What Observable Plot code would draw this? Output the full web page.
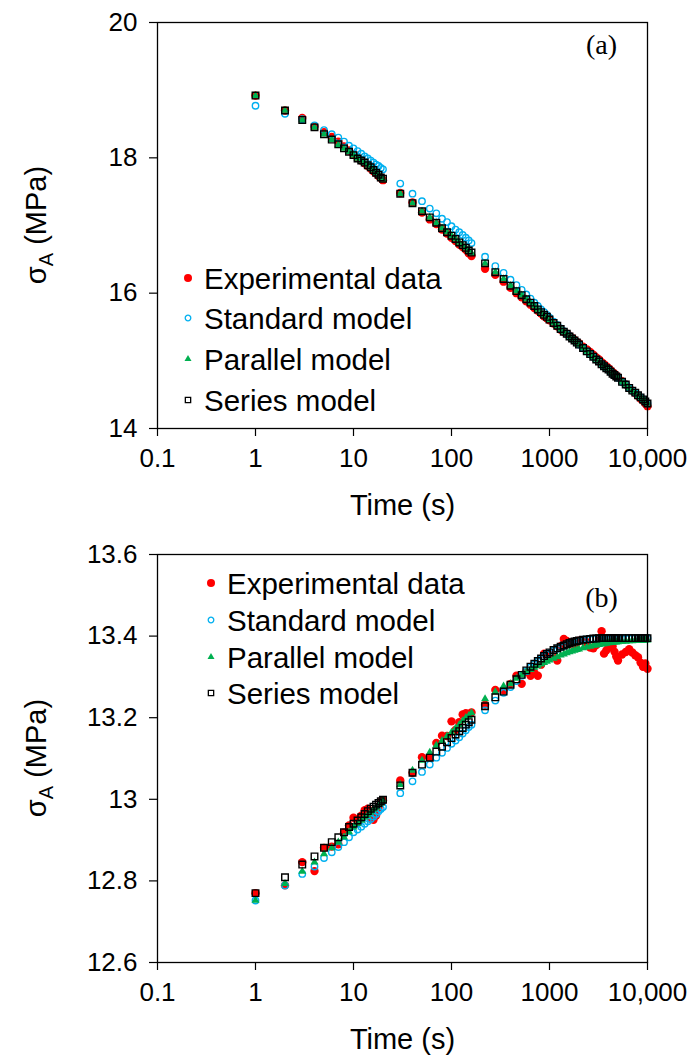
<!DOCTYPE html>
<html><head><meta charset="utf-8">
<script src="https://cdn.jsdelivr.net/npm/d3@7"></script>
<script src="https://cdn.jsdelivr.net/npm/@observablehq/plot@0.6"></script>
<style>
body{margin:0;background:#fff}
#chart{width:688px;height:1059px;overflow:hidden}
#chart svg{display:block;overflow:visible}
</style></head><body><div id="chart"></div>
<script>
// ---- shared time axis (s) ----
const times = [1,2,3,4,5,6,7,8,9,10,11,12,13,14,15,16,17,18,19,20,
  30,40,50,60,70,80,90,100,110,120,130,140,150,160,
  220,280,340,400,460,520,580,640,700,760,820,880,940,1000,
  1100,1200,1300,1400,1500,1600,1700,1800,1900,2000,
  2200,2400,2600,2800,3000,3200,3400,3600,3800,4000,4200,4400,4600,4800,5000,
  5500,6000,6500,7000,7500,8000,8500,9000,9500,10000];

// ---- panel (a) ----
const aExp = [18.92,18.70,18.59,18.46,18.38,18.31,18.24,18.17,18.11,18.05,18.00,17.96,17.92,17.88,17.84,17.80,17.77,17.73,17.70,17.67,
  17.48,17.34,17.19,17.09,17.02,16.94,16.88,16.82,16.77,16.72,16.68,16.64,16.59,16.55,
  16.36,16.27,16.17,16.08,16.00,15.94,15.88,15.83,15.78,15.74,15.70,15.66,15.63,15.60,
  15.55,15.51,15.46,15.43,15.40,15.37,15.34,15.31,15.28,15.26,
  15.21,15.17,15.13,15.09,15.05,15.02,14.98,14.95,14.92,14.89,14.86,14.83,14.81,14.78,14.76,
  14.70,14.65,14.60,14.56,14.52,14.48,14.44,14.41,14.37,14.33];
const aStd = [18.77,18.65,18.57,18.48,18.41,18.35,18.30,18.24,18.18,18.14,18.10,18.06,18.02,17.99,17.96,17.93,17.90,17.88,17.85,17.83,
  17.62,17.47,17.36,17.25,17.18,17.10,17.05,16.99,16.94,16.90,16.86,16.82,16.78,16.74,
  16.54,16.40,16.30,16.20,16.12,16.05,15.98,15.92,15.86,15.81,15.76,15.72,15.68,15.64,
  15.58,15.53,15.48,15.44,15.40,15.37,15.33,15.30,15.27,15.24,
  15.19,15.14,15.10,15.06,15.02,14.99,14.95,14.92,14.89,14.87,14.84,14.81,14.79,14.77,14.75,
  14.69,14.65,14.60,14.56,14.53,14.49,14.46,14.43,14.40,14.37];
const aPar = [18.92,18.70,18.56,18.45,18.35,18.27,18.19,18.14,18.09,18.04,17.99,17.96,17.93,17.89,17.86,17.82,17.78,17.75,17.71,17.68,
  17.47,17.33,17.21,17.12,17.04,16.96,16.90,16.85,16.80,16.75,16.71,16.67,16.63,16.59,
  16.44,16.31,16.21,16.11,16.03,15.97,15.91,15.86,15.81,15.76,15.72,15.68,15.65,15.61,
  15.56,15.52,15.47,15.43,15.40,15.36,15.33,15.30,15.27,15.24,
  15.19,15.14,15.10,15.06,15.02,14.99,14.95,14.92,14.89,14.87,14.84,14.81,14.79,14.77,14.75,
  14.69,14.65,14.60,14.56,14.53,14.49,14.46,14.43,14.40,14.37];
const aSer = [18.92,18.70,18.56,18.45,18.35,18.27,18.20,18.14,18.09,18.04,17.99,17.96,17.93,17.89,17.86,17.82,17.78,17.75,17.71,17.69,
  17.47,17.33,17.21,17.12,17.04,16.96,16.90,16.85,16.80,16.75,16.71,16.67,16.63,16.60,
  16.44,16.31,16.21,16.11,16.03,15.97,15.91,15.86,15.81,15.76,15.72,15.68,15.65,15.61,
  15.56,15.52,15.47,15.43,15.40,15.36,15.33,15.30,15.27,15.24,
  15.19,15.14,15.10,15.06,15.02,14.99,14.95,14.92,14.89,14.87,14.84,14.81,14.79,14.77,14.75,
  14.69,14.65,14.60,14.56,14.53,14.49,14.46,14.43,14.40,14.37];

// ---- panel (b) ----
const bExp = [12.770,12.789,12.846,12.824,12.881,12.884,12.890,12.918,12.936,12.955,12.948,12.960,12.973,12.977,12.952,12.950,12.960,12.979,12.994,12.997,
  13.046,13.065,13.103,13.102,13.138,13.156,13.155,13.191,13.170,13.189,13.208,13.211,13.209,13.213,
  13.232,13.268,13.267,13.283,13.303,13.283,13.312,13.303,13.310,13.303,13.330,13.357,13.350,13.357,
  13.350,13.340,13.375,13.393,13.388,13.380,13.385,13.378,13.383,13.389,
  13.389,13.385,13.372,13.370,13.378,13.390,13.412,13.357,13.365,13.372,13.380,13.375,13.362,13.350,13.340,
  13.355,13.361,13.368,13.360,13.353,13.348,13.335,13.325,13.333,13.320];
const bStd = [12.752,12.789,12.817,12.835,12.856,12.870,12.883,12.895,12.907,12.919,12.926,12.933,12.940,12.946,12.952,12.958,12.964,12.971,12.976,12.981,
  13.015,13.044,13.067,13.085,13.102,13.114,13.126,13.136,13.144,13.152,13.161,13.169,13.177,13.183,
  13.218,13.242,13.261,13.275,13.290,13.303,13.314,13.323,13.331,13.338,13.344,13.350,13.355,13.359,
  13.365,13.369,13.373,13.376,13.379,13.382,13.384,13.386,13.388,13.389,
  13.391,13.392,13.393,13.393,13.394,13.394,13.395,13.395,13.395,13.395,13.395,13.395,13.395,13.395,13.395,
  13.395,13.395,13.395,13.395,13.395,13.395,13.395,13.395,13.395,13.395];
const bPar = [12.752,12.793,12.823,12.846,12.866,12.881,12.895,12.907,12.920,12.932,12.940,12.948,12.956,12.962,12.968,12.975,12.980,12.986,12.990,12.997,
  13.036,13.071,13.095,13.115,13.132,13.144,13.155,13.164,13.174,13.183,13.192,13.200,13.205,13.212,
  13.246,13.263,13.277,13.283,13.296,13.304,13.312,13.318,13.323,13.327,13.331,13.335,13.338,13.341,
  13.345,13.349,13.353,13.356,13.359,13.361,13.363,13.365,13.367,13.368,
  13.371,13.373,13.375,13.377,13.378,13.379,13.380,13.381,13.382,13.383,13.384,13.384,13.385,13.385,13.386,
  13.387,13.387,13.388,13.388,13.389,13.389,13.389,13.389,13.390,13.390];
const bSer = [12.770,12.809,12.840,12.860,12.881,12.895,12.907,12.919,12.932,12.940,12.948,12.956,12.964,12.971,12.977,12.982,12.987,12.991,12.995,12.999,
  13.034,13.065,13.085,13.102,13.117,13.129,13.140,13.150,13.159,13.167,13.175,13.183,13.189,13.195,
  13.228,13.250,13.264,13.281,13.294,13.305,13.316,13.325,13.332,13.339,13.345,13.351,13.356,13.360,
  13.366,13.370,13.374,13.377,13.380,13.383,13.385,13.387,13.388,13.389,
  13.391,13.392,13.393,13.394,13.394,13.395,13.395,13.395,13.395,13.395,13.395,13.395,13.395,13.395,13.395,
  13.395,13.395,13.395,13.395,13.395,13.395,13.395,13.395,13.395,13.395];

// ---- ticks & labels ----
const xTicks = [0.1, 1, 10, 100, 1000, 10000];
const xTickLabels = ["0.1", "1", "10", "100", "1000", "10,000"];
const aYTicks = [14, 16, 18, 20];
const aYTickLabels = ["14", "16", "18", "20"];
const bYTicks = [12.6, 12.8, 13, 13.2, 13.4, 13.6];
const bYTickLabels = ["12.6", "12.8", "13", "13.2", "13.4", "13.6"];
const seriesNames = ["Experimental data", "Standard model", "Parallel model", "Series model"];
const xTitle = "Time (s)";

const SANS = "Liberation Sans, Arial, sans-serif";
const SERIF = "Liberation Serif, Times New Roman, serif";
const styles = [
  {symbol: "circle", r: 4.2, fill: "#ff0000", stroke: "none", strokeWidth: 0},
  {symbol: "circle", r: 3.2, fill: "none", stroke: "#00b0f0", strokeWidth: 1.4},
  {symbol: "triangle", r: 3.0, fill: "#00b050", stroke: "none", strokeWidth: 0},
  {symbol: "square", r: 3.7, fill: "none", stroke: "#000000", strokeWidth: 1.4}
];
const legendStyles = [
  {r: 4.0, strokeWidth: 0},
  {r: 2.8, strokeWidth: 1.3},
  {r: 2.6, strokeWidth: 0},
  {r: 3.0, strokeWidth: 1.3}
];

function rows(vals) { return times.map((t, i) => ({t, v: vals[i]})); }

function panel(cfg) {
  const fmtX = d => xTickLabels[xTicks.indexOf(d)];
  const fmtY = d => cfg.yTickLabels[cfg.yTicks.indexOf(d)];
  const plot = Plot.plot({
    width: 688, height: cfg.height,
    marginTop: cfg.marginTop, marginBottom: cfg.marginBottom, marginLeft: 157, marginRight: 41,
    style: {fontFamily: SANS, fontSize: "26px", color: "#000", background: "#fff", overflow: "visible"},
    x: {type: "log", domain: [0.1, 10000]},
    y: {domain: cfg.yDomain},
    marks: [
      Plot.axisX({ticks: xTicks, tickFormat: fmtX, tickSize: 8, tickPadding: 12, fontSize: 26, label: null, strokeWidth: 1.2}),
      Plot.axisY({ticks: cfg.yTicks, tickFormat: fmtY, tickSize: 8, tickPadding: 12, fontSize: 26, label: null, strokeWidth: 1.2}),
      ...cfg.series.map((vals, k) => Plot.dot(rows(vals), {
        x: "t", y: "v", symbol: styles[k].symbol, r: styles[k].r,
        fill: styles[k].fill, stroke: styles[k].stroke, strokeWidth: styles[k].strokeWidth
      })),
      Plot.frame({stroke: "#000", strokeWidth: 1.3}),
      Plot.text([xTitle], {text: d => d, frameAnchor: "bottom", dy: 77, fontSize: 29, textAnchor: "middle", lineAnchor: "middle"}),
      Plot.text([cfg.tag], {text: d => d, frameAnchor: "top-right", dx: -46, dy: cfg.tagDy, fontSize: 28, fontFamily: SERIF, textAnchor: "middle", lineAnchor: "middle"})
    ]
  });
  const svg = d3.select(plot);
  // y-axis title with subscript
  const cy = (cfg.marginTop + cfg.height - cfg.marginBottom) / 2;
  const yt = svg.append("text")
    .attr("transform", `translate(46,${cy}) rotate(-90)`)
    .attr("text-anchor", "middle").attr("font-family", SANS).attr("font-size", 29).attr("fill", "#000");
  yt.append("tspan").text("σ");
  yt.append("tspan").attr("font-size", 20).attr("dy", 7).text("A");
  yt.append("tspan").attr("dy", -7).text(" (MPa)");
  // legend
  const lg = svg.append("g").attr("font-family", SANS).attr("font-size", 29.5)
    .attr("fill", "#000").attr("text-anchor", "start");
  seriesNames.forEach((name, k) => {
    const y = cfg.legend.rows[k];
    const s = styles[k];
    const ls = legendStyles[k];
    const typ = s.symbol === "circle" ? d3.symbolCircle : s.symbol === "triangle" ? d3.symbolTriangle : d3.symbolSquare;
    lg.append("path")
      .attr("d", d3.symbol(typ, Math.PI * ls.r * ls.r)())
      .attr("transform", `translate(${cfg.legend.mx},${y})`)
      .attr("fill", s.fill).attr("stroke", s.stroke).attr("stroke-width", ls.strokeWidth);
    lg.append("text").attr("x", cfg.legend.tx).attr("y", y + 10.5)
      .attr("text-anchor", "start").text(name);
  });
  return plot;
}

const root = document.getElementById("chart");
root.appendChild(panel({
  height: 530, marginTop: 22, marginBottom: 102,
  yDomain: [14, 20], yTicks: aYTicks, yTickLabels: aYTickLabels,
  series: [aExp, aStd, aPar, aSer], tag: "(a)", tagDy: 23,
  legend: {mx: 188, tx: 204, rows: [278, 318, 359, 400]}
}));
root.appendChild(panel({
  height: 529, marginTop: 24, marginBottom: 97,
  yDomain: [12.6, 13.6], yTicks: bYTicks, yTickLabels: bYTickLabels,
  series: [bExp, bStd, bPar, bSer], tag: "(b)", tagDy: 44,
  legend: {mx: 211, tx: 227, rows: [53, 90, 127, 163]}
}));
</script></body></html>
